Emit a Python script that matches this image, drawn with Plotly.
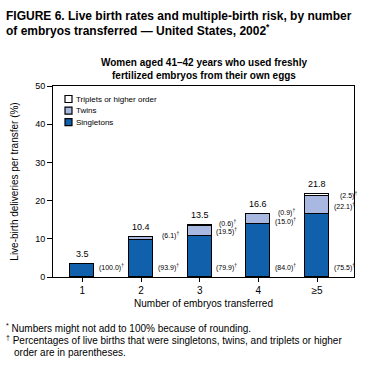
import plotly.graph_objects as go

# ---- data ----
categories = ["1", "2", "3", "4", "≥5"]
cat_pos = [1, 2, 3, 4, 5]
total_rate = [3.5, 10.4, 13.5, 16.6, 21.8]           # live-birth deliveries per transfer (%)
pct_singletons = [100.0, 93.9, 79.9, 84.0, 75.5]
pct_twins = [0.0, 6.1, 19.5, 15.0, 22.1]
pct_triplets = [0.0, 0.0, 0.6, 0.9, 2.5]
y_ticks = [0, 10, 20, 30, 40, 50]

singletons = [t * p / 100 for t, p in zip(total_rate, pct_singletons)]
twins = [t * p / 100 for t, p in zip(total_rate, pct_twins)]
triplets = [t * p / 100 for t, p in zip(total_rate, pct_triplets)]

C_SING = "#1060ac"
C_TWIN = "#a9b8e0"
C_TRIP = "#ffffff"
FONT = "Liberation Sans, Arial, sans-serif"

W, H = 374, 369
L, R, T, B = 53, 20, 86, 92
PW, PH = W - L - R, H - T - B


def px(x):
    return (x - L) / PW


def py(y):
    return (H - B - y) / PH


fig = go.Figure()
line = dict(color="black", width=1)
fig.add_trace(go.Bar(x=cat_pos, y=singletons, marker=dict(color=C_SING, line=line),
                     width=0.41, name="Singletons", showlegend=False))
fig.add_trace(go.Bar(x=cat_pos, y=twins, marker=dict(color=C_TWIN, line=line),
                     width=0.41, name="Twins", showlegend=False))
fig.add_trace(go.Bar(x=cat_pos, y=triplets, marker=dict(color=C_TRIP, line=line),
                     width=0.41, name="Triplets or higher order", showlegend=False))

ann = []
# totals above bars
for x, t in zip(cat_pos, total_rate):
    ann.append(dict(x=x, y=t, xref="x", yref="y", text=f"{t:.1f}", showarrow=False,
                    yanchor="bottom", yshift=3, font=dict(size=9, color="black", family=FONT)))

# percentage labels right of bars
dag = "<sup>†</sup>"
sfont = dict(size=7, color="black", family=FONT)
for i, x in enumerate(cat_pos):
    ann.append(dict(x=x + 0.25, y=2.4, xref="x", yref="y", text=f"({pct_singletons[i]:.1f}){dag}",
                    showarrow=False, xanchor="left", yanchor="middle", font=sfont))
twin_y = [None, 10.8, 11.8, 14.5, 18.4]
trip_y = [None, None, 14.1, 17.0, 21.3]
for i, x in enumerate(cat_pos):
    if pct_twins[i] > 0:
        ann.append(dict(x=x + 0.32 if i == 1 else x + 0.25, y=twin_y[i], xref="x", yref="y",
                        text=f"({pct_twins[i]:.1f}){dag}", showarrow=False,
                        xanchor="left", yanchor="middle", font=sfont))
    if pct_triplets[i] > 0:
        ann.append(dict(x=x + 0.3 if i < 4 else x + 0.36, y=trip_y[i], xref="x", yref="y",
                        text=f"({pct_triplets[i]:.1f}){dag}", showarrow=False,
                        xanchor="left", yanchor="middle", font=sfont))

# manual legend
legend_items = [("Triplets or higher order", C_TRIP), ("Twins", C_TWIN), ("Singletons", C_SING)]
shapes = []
for k, (lab, col) in enumerate(legend_items):
    yc = 99 + k * 11.6
    shapes.append(dict(type="rect", xref="paper", yref="paper",
                       x0=px(65), x1=px(72), y0=py(yc + 3.5), y1=py(yc - 3.5),
                       fillcolor=col, line=dict(color="black", width=1.2)))
    ann.append(dict(x=px(74), y=py(yc), xref="paper", yref="paper", text=lab, showarrow=False,
                    xanchor="left", yanchor="middle", font=dict(size=8, color="black", family=FONT)))

# titles
ann.append(dict(x=px(4), y=py(16), xref="paper", yref="paper", xanchor="left", yanchor="middle",
                showarrow=False, align="left",
                text="<b>FIGURE 6. Live birth rates and multiple-birth risk, by number</b>",
                font=dict(size=12, color="black", family=FONT)))
ann.append(dict(x=px(4), y=py(30), xref="paper", yref="paper", xanchor="left", yanchor="middle",
                showarrow=False, align="left",
                text="<b>of embryos transferred — United States, 2002<sup>*</sup></b>",
                font=dict(size=12, color="black", family=FONT)))
ann.append(dict(x=px(204), y=py(62), xref="paper", yref="paper", xanchor="center", yanchor="middle",
                showarrow=False, text="<b>Women aged 41–42 years who used freshly</b>",
                font=dict(size=10, color="black", family=FONT)))
ann.append(dict(x=px(204), y=py(75), xref="paper", yref="paper", xanchor="center", yanchor="middle",
                showarrow=False, text="<b>fertilized embryos from their own eggs</b>",
                font=dict(size=10, color="black", family=FONT)))

# footnotes
ffont = dict(size=10, color="black", family=FONT)
ann.append(dict(x=px(4), y=py(328), xref="paper", yref="paper", xanchor="left", yanchor="middle",
                showarrow=False, text="<sup>*</sup> Numbers might not add to 100% because of rounding.",
                font=ffont))
ann.append(dict(x=px(4), y=py(340), xref="paper", yref="paper", xanchor="left", yanchor="middle",
                showarrow=False,
                text="<sup>†</sup> Percentages of live births that were singletons, twins, and triplets or higher",
                font=ffont))
ann.append(dict(x=px(12), y=py(352), xref="paper", yref="paper", xanchor="left", yanchor="middle",
                showarrow=False, text="order are in parentheses.", font=ffont))

fig.update_layout(
    width=W, height=H,
    margin=dict(l=L, r=R, t=T, b=B, pad=0),
    paper_bgcolor="white", plot_bgcolor="white",
    barmode="stack", bargap=0,
    font=dict(family=FONT, color="black", size=10),
    annotations=ann, shapes=shapes,
    xaxis=dict(range=[0.5, 5.63], tickvals=cat_pos, ticktext=categories,
               ticks="outside", ticklen=4, tickcolor="black", showline=True, linecolor="black",
               linewidth=1, mirror=True, showgrid=False, zeroline=False,
               tickfont=dict(size=10),
               title=dict(text="Number of embryos transferred", font=dict(size=10), standoff=4)),
    yaxis=dict(range=[0, 50], tickvals=y_ticks, ticks="outside", ticklen=5, tickcolor="black",
               showline=True, linecolor="black", linewidth=1, mirror=True, showgrid=False,
               zeroline=False, tickfont=dict(size=9),
               title=dict(text="Live-birth deliveries per transfer (%)", font=dict(size=10), standoff=14)),
)

fig.write_html("out.html", config={"displayModeBar": False},
               post_script="document.body.style.margin='0';")
